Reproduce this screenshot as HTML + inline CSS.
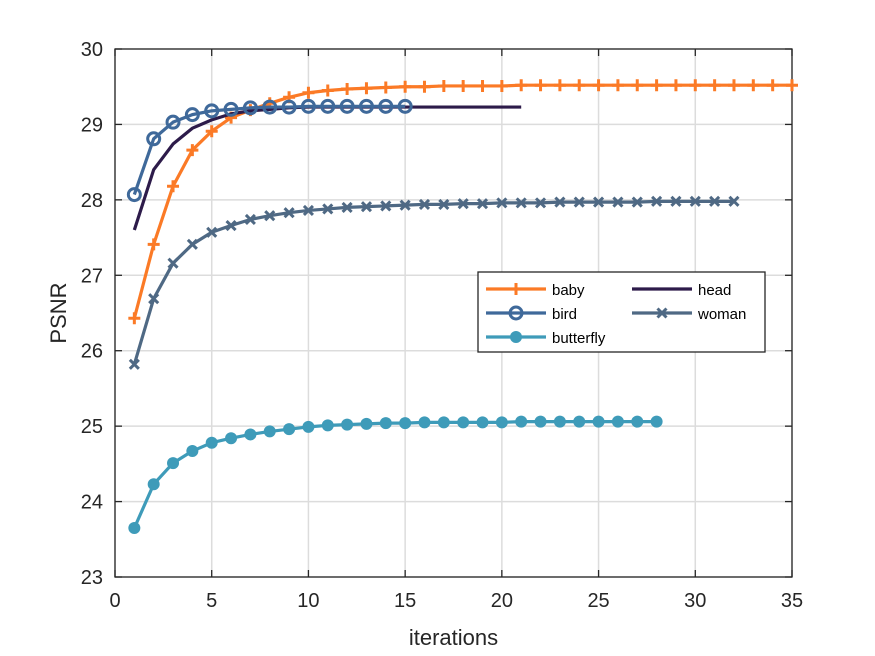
<!DOCTYPE html>
<html><head><meta charset="utf-8"><style>
body{margin:0;background:#fff;}
svg{display:block;font-family:"Liberation Sans",Arial,sans-serif;}
</style></head><body>
<svg id="chart" width="875" height="656"></svg>
<script>
const xTicks=[0,5,10,15,20,25,30,35];
const yTicks=[23,24,25,26,27,28,29,30];
const baby=[26.43,27.41,28.18,28.66,28.91,29.09,29.19,29.28,29.36,29.42,29.45,29.47,29.48,29.49,29.50,29.50,29.51,29.51,29.51,29.51,29.52,29.52,29.52,29.52,29.52,29.52,29.52,29.52,29.52,29.52,29.52,29.52,29.52,29.52,29.52];
const bird=[28.07,28.81,29.03,29.13,29.18,29.20,29.22,29.23,29.23,29.24,29.24,29.24,29.24,29.24,29.24];
const head=[27.60,28.40,28.74,28.95,29.06,29.14,29.18,29.20,29.22,29.23,29.23,29.23,29.23,29.23,29.23,29.23,29.23,29.23,29.23,29.23,29.23];
const woman=[25.82,26.69,27.16,27.41,27.57,27.66,27.74,27.79,27.83,27.86,27.88,27.90,27.91,27.92,27.93,27.94,27.94,27.95,27.95,27.96,27.96,27.96,27.97,27.97,27.97,27.97,27.97,27.98,27.98,27.98,27.98,27.98];
const butterfly=[23.65,24.23,24.51,24.67,24.78,24.84,24.89,24.93,24.96,24.99,25.01,25.02,25.03,25.04,25.04,25.05,25.05,25.05,25.05,25.05,25.06,25.06,25.06,25.06,25.06,25.06,25.06,25.06];
const L=115,R=792,T=49,B=577;
const X=v=>L+(v-0)/35*(R-L);
const Y=v=>B-(v-23)/7*(B-T);
const svg=document.getElementById('chart');
const NS='http://www.w3.org/2000/svg';
function mk(tag,attrs,parent){const e=document.createElementNS(NS,tag);for(const k in attrs)e.setAttribute(k,attrs[k]);(parent||svg).appendChild(e);return e;}
const grid=mk('g',{});


xTicks.forEach(t=>{mk('line',{x1:X(t),x2:X(t),y1:T,y2:B,stroke:'#dcdcdc','stroke-width':1.5},grid);});
yTicks.forEach(t=>{mk('line',{x1:L,x2:R,y1:Y(t),y2:Y(t),stroke:'#dcdcdc','stroke-width':1.5},grid);});
mk('rect',{x:L,y:T,width:R-L,height:B-T,fill:'none',stroke:'#262626','stroke-width':1.3});
const xa=mk('g',{});


xTicks.forEach(t=>{
 mk('line',{x1:X(t),x2:X(t),y1:B,y2:B-7,stroke:'#262626','stroke-width':1.3},xa);
 mk('line',{x1:X(t),x2:X(t),y1:T,y2:T+7,stroke:'#262626','stroke-width':1.3},xa);
 const tx=mk('text',{x:X(t),y:B+30,'text-anchor':'middle','font-size':20,fill:'#262626'},xa);tx.textContent=t;
});
const ya=mk('g',{});


yTicks.forEach(t=>{
 mk('line',{x1:L,x2:L+7,y1:Y(t),y2:Y(t),stroke:'#262626','stroke-width':1.3},ya);
 mk('line',{x1:R,x2:R-7,y1:Y(t),y2:Y(t),stroke:'#262626','stroke-width':1.3},ya);
 const tx=mk('text',{x:L-12,y:Y(t)+7,'text-anchor':'end','font-size':20,fill:'#262626'},ya);tx.textContent=t;
});
const xt=mk('text',{x:(L+R)/2,y:645,'text-anchor':'middle','font-size':22,fill:'#262626'});xt.textContent='iterations';


const yt=mk('text',{x:0,y:0,transform:'translate(66,313) rotate(-90)','text-anchor':'middle','font-size':22,fill:'#262626'});yt.textContent='PSNR';


function marker(kind,cx,cy,color,g,s){
 s=s||1;
 if(kind==='plus'){mk('path',{d:`M${cx-6*s},${cy}H${cx+6*s}M${cx},${cy-6*s}V${cy+6*s}`,stroke:color,'stroke-width':3},g);}
 else if(kind==='circle'){mk('circle',{cx,cy,r:6*s,fill:'none',stroke:color,'stroke-width':3},g);}
 else if(kind==='dot'){mk('circle',{cx,cy,r:6*s,fill:color},g);}
 else if(kind==='x'){const d=4.5*s;mk('path',{d:`M${cx-d},${cy-d}L${cx+d},${cy+d}M${cx-d},${cy+d}L${cx+d},${cy-d}`,stroke:color,'stroke-width':3},g);}
}
const series=[
 {name:'butterfly',data:butterfly,color:'#3e9bb9',m:'dot'},
 {name:'woman',data:woman,color:'#4f6984',m:'x'},
 {name:'baby',data:baby,color:'#fb7a26',m:'plus'},
 {name:'head',data:head,color:'#2d1b4a',m:null},
 {name:'bird',data:bird,color:'#3f699a',m:'circle'}
];
series.forEach(s=>{
 const g=mk('g',{});
 
 
 const pts=s.data.map((v,i)=>X(i+1)+','+Y(v)).join(' ');
 mk('polyline',{points:pts,fill:'none',stroke:s.color,'stroke-width':3.2,'stroke-linejoin':'round'},g);
 if(s.m)s.data.forEach((v,i)=>marker(s.m,X(i+1),Y(v),s.color,g));
});
const lg=mk('g',{});


mk('rect',{x:478,y:272,width:287,height:80,fill:'#fff',stroke:'#262626','stroke-width':1.3},lg);
const items=[['baby','#fb7a26','plus',486,289],['bird','#3f699a','circle',486,313],['butterfly','#3e9bb9','dot',486,337],['head','#2d1b4a',null,632,289],['woman','#4f6984','x',632,313]];
items.forEach(it=>{
 const e=mk('g',{},lg);
 
 
 mk('line',{x1:it[3],x2:it[3]+60,y1:it[4],y2:it[4],stroke:it[1],'stroke-width':3.2},e);
 if(it[2])marker(it[2],it[3]+30,it[4],it[1],e);
 const t=mk('text',{x:it[3]+66,y:it[4]+6,'font-size':15,fill:'#000'},e);t.textContent=it[0];
});
</script>
</body></html>
